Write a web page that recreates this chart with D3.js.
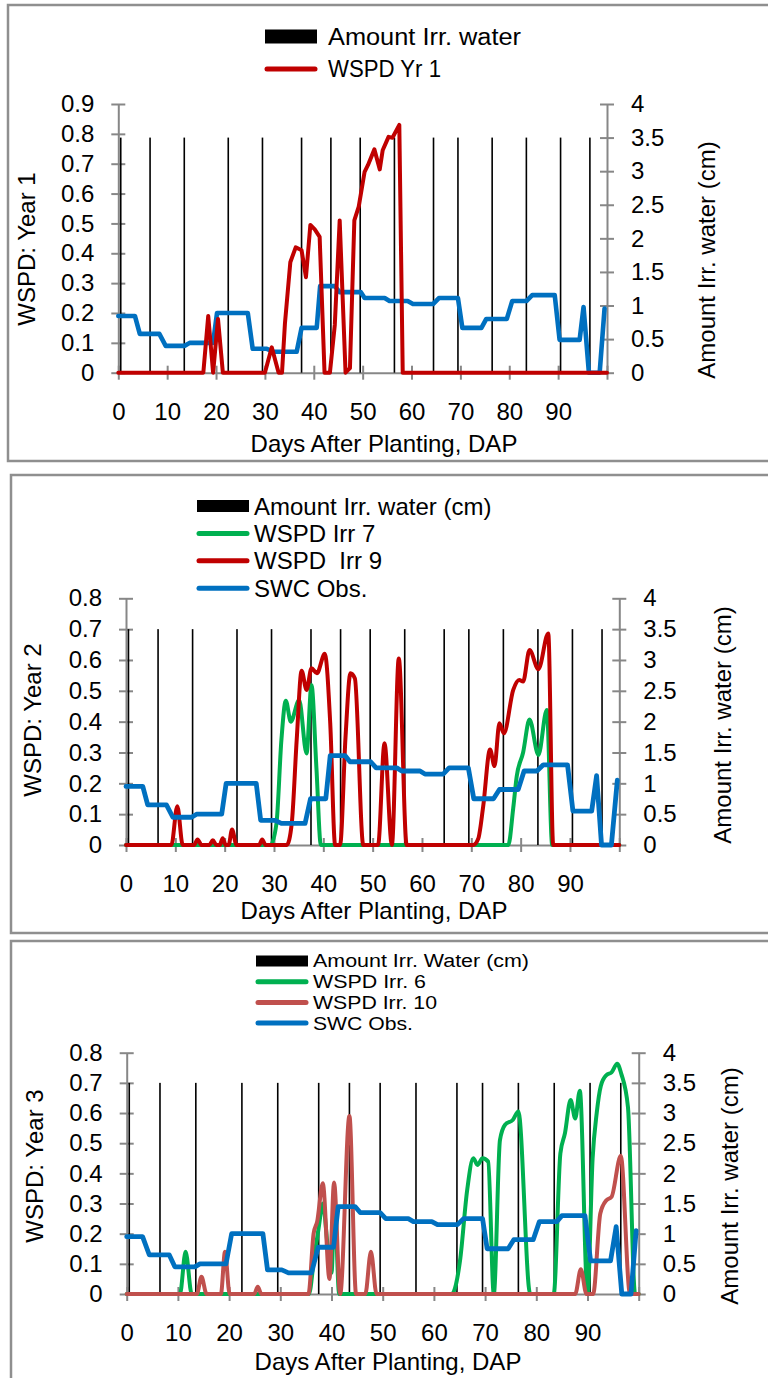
<!DOCTYPE html>
<html><head><meta charset="utf-8">
<script src="https://cdn.jsdelivr.net/npm/d3@7"></script>
<style>
body{margin:0;background:#fff}
svg{display:block}
text{font-family:"Liberation Sans",Arial,sans-serif;fill:#000}
</style>
</head><body>
<svg id="chart" width="768" height="1378"></svg>
<script>
// ---------- data ----------
const xTickValues = [0,10,20,30,40,50,60,70,80,90,100];
const xTickLabels = ["0","10","20","30","40","50","60","70","80","90",""];
const leftTicksYr1 = [0,0.1,0.2,0.3,0.4,0.5,0.6,0.7,0.8,0.9];
const leftTicksYr23 = [0,0.1,0.2,0.3,0.4,0.5,0.6,0.7,0.8];
const rightTicks = [0,0.5,1,1.5,2,2.5,3,3.5,4];

// irrigation events (DAP) and amounts (cm)
const irrDays = [0.5,6.5,13.5,22.5,29.5,37.5,43.5,49.5,56.5,64.5,69.5,76.5,83.5,90.5,96.5];
const irrAmountYr1 = [3.5,3.5,3.5,3.5,3.5,3.5,3.5,3.5,3.5,3.5,3.5,3.5,3.5,3.5,3.5];
const irrAmountYr2 = [3.5,3.5,3.5,3.5,3.5,3.5,3.5,3.5,3.5,3.5,3.5,3.5,3.5,3.5,3.5];
const irrAmountYr3 = [3.5,3.5,3.5,3.5,3.5,3.5,3.5,3.5,3.5,3.5,3.5,3.5,3.5,3.5,3.5];

// Year 1
const swcYr1 = [[0,0.19],[3.4,0.19],[4.4,0.13],[8.4,0.13],[9.7,0.09],[13.6,0.09],[14.6,0.10],[19.4,0.10],[20.2,0.20],[26.5,0.20],[27.5,0.08],[30.4,0.08],[31.8,0.07],[36.5,0.07],[37.5,0.15],[40.6,0.15],[41.3,0.29],[44.3,0.29],[45.3,0.27],[49.6,0.27],[50.4,0.25],[54.5,0.25],[55.5,0.24],[59.2,0.24],[60.3,0.23],[64.4,0.23],[65.6,0.25],[69.5,0.25],[70.4,0.15],[74.3,0.15],[75.3,0.18],[79.5,0.18],[80.6,0.24],[83.5,0.24],[84.7,0.26],[89.3,0.26],[90.3,0.11],[94.4,0.11],[95.2,0.22],[96.3,0],[98.5,0],[99.5,0.215]];
const wspdYr1 = [[0,0],[17.4,0],[18.4,0.19],[19.4,0],[20.4,0.18],[21.4,0],[30.0,0],[31.4,0.085],[32.8,0],[33.5,0],[34.1,0.165],[35.2,0.37],[36.3,0.42],[37.5,0.41],[38.4,0.32],[39.3,0.495],[40.2,0.48],[41.2,0.455],[42.2,0],[43.3,0],[44.3,0.16],[45.3,0.51],[46.5,0],[47.4,0.015],[48.3,0.51],[49.2,0.556],[50.4,0.673],[51.1,0.696],[52.4,0.748],[53.5,0.681],[54.1,0.745],[55.3,0.79],[56.1,0.787],[57.5,0.83],[58.2,0],[100,0]];

// Year 2
const swcYr2 = [[0,0.19],[3.4,0.19],[4.4,0.13],[8.2,0.13],[9.5,0.09],[13.3,0.09],[14.3,0.10],[19.4,0.10],[20.3,0.20],[26.4,0.20],[27.3,0.08],[30.2,0.08],[31.5,0.07],[36.3,0.07],[37.4,0.15],[40.5,0.15],[41.4,0.29],[44.4,0.29],[45.4,0.27],[49.6,0.27],[50.7,0.25],[54.9,0.25],[55.9,0.24],[59.6,0.24],[60.6,0.23],[64.3,0.23],[65.5,0.25],[69.4,0.25],[70.5,0.15],[74.5,0.15],[75.7,0.18],[79.5,0.18],[80.7,0.24],[83.3,0.24],[84.6,0.26],[89.5,0.26],[90.6,0.11],[94.4,0.11],[95.4,0.225],[96.4,0],[98.4,0],[99.6,0.21]];
const wspdIrr7 = [[0,0],[29.3,0],[30.5,0.07],[31.5,0.34],[32.4,0.468],[33.4,0.4],[35.1,0.47],[36.6,0.297],[37.6,0.519],[38.6,0.25],[39.5,0],[77.5,0],[78.5,0.12],[79.2,0.222],[80.5,0.3],[81.8,0.407],[83.6,0.292],[85.3,0.438],[86.4,0],[100,0]];
const wspdIrr9 = [[0,0],[9.2,0],[10.4,0.126],[11.5,0],[13.8,0],[14.5,0.018],[15.3,0],[16.9,0],[17.6,0.015],[18.3,0],[19.0,0],[19.6,0.022],[20.2,0],[20.8,0],[21.5,0.05],[22.4,0],[27.0,0],[27.6,0.018],[28.3,0],[32.6,0],[33.6,0.07],[34.6,0.34],[35.6,0.565],[36.6,0.503],[37.6,0.573],[38.7,0.557],[40.3,0.62],[41.4,0.395],[42.4,0],[43.4,0],[44.5,0.35],[45.5,0.557],[46.4,0.54],[48.1,0],[51.1,0],[52.4,0.33],[53.9,0],[55.3,0.605],[56.9,0],[70.4,0],[71.4,0.02],[72.4,0.124],[73.8,0.31],[74.7,0.256],[75.7,0.395],[76.6,0.362],[78.5,0.503],[79.7,0.535],[80.5,0.53],[81.8,0.632],[83.6,0.57],[85.6,0.686],[86.6,0],[100,0]];

// Year 3
const swcYr3 = [[0,0.19],[3.1,0.19],[4.4,0.13],[8.3,0.13],[9.4,0.09],[13.3,0.09],[14.3,0.10],[19.4,0.10],[20.5,0.20],[26.6,0.20],[27.5,0.08],[30.3,0.08],[31.6,0.07],[36.1,0.07],[37.4,0.155],[40.4,0.155],[41.3,0.29],[44.6,0.29],[45.6,0.27],[49.5,0.27],[50.6,0.25],[55.0,0.25],[56.0,0.24],[59.6,0.24],[60.7,0.23],[64.6,0.23],[65.8,0.25],[69.5,0.25],[70.4,0.15],[74.5,0.15],[75.6,0.18],[79.4,0.18],[80.6,0.24],[84.0,0.24],[85.0,0.26],[89.5,0.26],[90.6,0.11],[94.5,0.11],[95.6,0.223],[96.7,0],[98.5,0],[99.5,0.21]];
const wspdIrr6 = [[0,0],[10.4,0],[11.5,0.14],[12.7,0],[35.6,0],[36.6,0.12],[37.5,0.22],[38.3,0.3],[39.3,0.15],[40.0,0.07],[40.6,0.3],[41.5,0],[63.5,0],[65.1,0.11],[66.5,0.345],[67.7,0.45],[68.5,0.428],[69.5,0.45],[70.6,0.439],[71.7,0],[72.9,0.51],[73.9,0.561],[75.4,0.577],[76.5,0.605],[78.8,0],[83.4,0],[84.7,0.466],[85.6,0.533],[86.7,0.643],[87.6,0.582],[88.5,0.674],[90.0,0],[91.0,0.45],[91.8,0.6],[92.6,0.69],[93.7,0.726],[94.7,0.735],[95.8,0.763],[96.6,0.73],[97.9,0.62],[99.3,0],[100,0]];
const wspdIrr10 = [[0,0],[13.7,0],[14.6,0.057],[15.6,0],[18.4,0],[19.2,0.14],[20.1,0],[24.9,0],[25.6,0.024],[26.3,0],[35.5,0],[36.5,0.2],[37.2,0.24],[38.3,0.367],[39.6,0.05],[40.5,0.37],[41.7,0],[43.5,0.59],[44.8,0],[46.6,0],[47.7,0.14],[48.8,0],[87.6,0],[88.7,0.082],[89.8,0],[91.1,0],[92.5,0.267],[93.7,0.311],[94.7,0.322],[96.5,0.458],[98.3,0],[100,0]];

// ---------- drawing ----------
const svg = d3.select("#chart");
const AX = "#878787";

function panel(p){
  const g = svg.append("g");
  g.append("rect").attr("x",p.frame[0]).attr("y",p.frame[1]).attr("width",p.frame[2]).attr("height",p.frame[3])
    .attr("fill","none").attr("stroke","#8f8f8f").attr("stroke-width",2.5);

  const x = d3.scaleLinear().domain([0,100]).range([p.x0,p.x1]);
  const yL = d3.scaleLinear().domain([0,p.yMax]).range([p.yBot,p.yTop]);
  const yR = d3.scaleLinear().domain([0,4]).range([p.yBot,p.yTop]);

  const fs = 24;
  const ax = g.append("g").attr("transform",`translate(${p.x0},0)`)
    .call(d3.axisLeft(yL).tickValues(p.leftTicks).tickFormat(d=>String(+d.toFixed(1))).tickSizeInner(7).tickSizeOuter(0).tickPadding(17));
  ax.selectAll(".tick line").attr("x1",7);
  const ar = g.append("g").attr("transform",`translate(${p.x1},0)`)
    .call(d3.axisRight(yR).tickValues(rightTicks).tickFormat(d=>String(d)).tickSizeInner(7).tickSizeOuter(0).tickPadding(17));
  ar.selectAll(".tick line").attr("x1",-7);
  const ab = g.append("g").attr("transform",`translate(0,${p.yBot})`)
    .call(d3.axisBottom(x).tickValues(xTickValues).tickFormat((d,i)=>xTickLabels[i]).tickSizeInner(7).tickSizeOuter(0).tickPadding(23));
  ab.selectAll(".tick line").attr("y1",-7);
  [ax,ar,ab].forEach(a=>{
    a.selectAll("path.domain,line").attr("stroke",AX).attr("stroke-width",2);
    a.selectAll("text").attr("font-size",fs).attr("font-family",'"Liberation Sans",Arial,sans-serif').attr("fill","#000");
  });

  // irrigation bars
  g.append("g").selectAll("rect").data(irrDays).join("rect")
    .attr("x",d=>x(d)-0.8).attr("width",1.6)
    .attr("y",(d,i)=>yR(p.irr[i])).attr("height",(d,i)=>yR(0)-yR(p.irr[i]))
    .attr("fill","#000");

  // lines
  p.series.forEach(s=>{
    const line = d3.line().x(d=>x(d[0])).y(d=>yL(d[1])).curve(s.curve||d3.curveLinear);
    g.append("path").datum(s.data).attr("d",line).attr("fill","none")
      .attr("stroke",s.color).attr("stroke-width",s.width).attr("stroke-linejoin","round").attr("stroke-linecap","round");
  });

  // titles
  g.append("text").attr("x",p.xTitle[0]).attr("y",p.xTitle[1]).attr("text-anchor","middle").attr("font-size",24).text("Days After Planting, DAP");
  g.append("text").attr("transform",`translate(${p.lTitle[0]},${p.lTitle[1]}) rotate(-90)`).attr("text-anchor","middle").attr("font-size",24).text(p.lTitleText);
  g.append("text").attr("transform",`translate(${p.rTitle[0]},${p.rTitle[1]}) rotate(-90)`).attr("text-anchor","middle").attr("font-size",24).text("Amount Irr. water (cm)");

  // legend
  const L = p.legend;
  L.items.forEach((it,i)=>{
    const cy = L.y0 + i*L.dy;
    if(it.type==="bar"){
      g.append("rect").attr("x",L.x).attr("y",cy-L.barH/2).attr("width",L.w).attr("height",L.barH).attr("fill","#000");
    } else {
      g.append("line").attr("x1",L.x+2).attr("x2",L.x+L.w-2).attr("y1",cy).attr("y2",cy)
        .attr("stroke",it.color).attr("stroke-width",it.lw||5).attr("stroke-linecap","round");
    }
    const t = g.append("text").attr("x",L.tx).attr("y",cy+L.fs*0.36).attr("font-size",L.fs)
      .attr("font-family",L.font||'"Liberation Sans",Arial,sans-serif').attr("xml:space","preserve").style("white-space","pre").text(it.label);
    if(it.len) t.attr("textLength",it.len).attr("lengthAdjust","spacingAndGlyphs");
  });
}

const blue = "#0070C0";
panel({
  frame:[8,5,800,456],
  x0:118.3,x1:607,yTop:104,yBot:372.7,yMax:0.9,leftTicks:leftTicksYr1,irr:irrAmountYr1,
  series:[
    {data:swcYr1,color:blue,width:4.6},
    {data:wspdYr1,color:"#C00000",width:4}
  ],
  xTitle:[384,452],lTitle:[34.6,249],rTitle:[714.6,260],lTitleText:"WSPD: Year 1",
  legend:{x:265,w:52,tx:328,y0:36.5,dy:32.5,barH:14,fs:23,font:"Lato, sans-serif",
    items:[{type:"bar",label:"Amount Irr. water",len:193},{type:"line",color:"#C00000",label:"WSPD Yr 1",lw:5,len:113}]}
});
panel({
  frame:[11,475,800,458],
  x0:126,x1:619.3,yTop:598.3,yBot:845,yMax:0.8,leftTicks:leftTicksYr23,irr:irrAmountYr2,
  series:[
    {data:wspdIrr7,color:"#00B050",width:4,curve:d3.curveMonotoneX},
    {data:wspdIrr9,color:"#C00000",width:4,curve:d3.curveMonotoneX},
    {data:swcYr2,color:blue,width:4.8}
  ],
  xTitle:[374,919],lTitle:[40.6,720],rTitle:[730.6,725],lTitleText:"WSPD: Year 2",
  legend:{x:197,w:52,tx:254,y0:506,dy:27.4,barH:12,fs:24,
    items:[{type:"bar",label:"Amount Irr. water (cm)"},{type:"line",color:"#00B050",label:"WSPD Irr 7"},
           {type:"line",color:"#C00000",label:"WSPD  Irr 9"},{type:"line",color:blue,label:"SWC Obs."}]}
});
panel({
  frame:[11,941,800,500],
  x0:126.7,x1:638.7,yTop:1052.7,yBot:1294,yMax:0.8,leftTicks:leftTicksYr23,irr:irrAmountYr3,
  series:[
    {data:wspdIrr6,color:"#00B050",width:4,curve:d3.curveMonotoneX},
    {data:wspdIrr10,color:"#C0504D",width:4,curve:d3.curveMonotoneX},
    {data:swcYr3,color:blue,width:4.8}
  ],
  xTitle:[388,1370],lTitle:[42.6,1166],rTitle:[737.6,1186],lTitleText:"WSPD: Year 3",
  legend:{x:256,w:52,tx:313,y0:961,dy:20.7,barH:11,fs:18,
    items:[{type:"bar",label:"Amount Irr. Water (cm)",len:216},{type:"line",color:"#00B050",label:"WSPD Irr. 6",len:113},
           {type:"line",color:"#C0504D",label:"WSPD Irr. 10",len:124},{type:"line",color:blue,label:"SWC Obs.",len:100}]}
});
</script>
</body></html>
